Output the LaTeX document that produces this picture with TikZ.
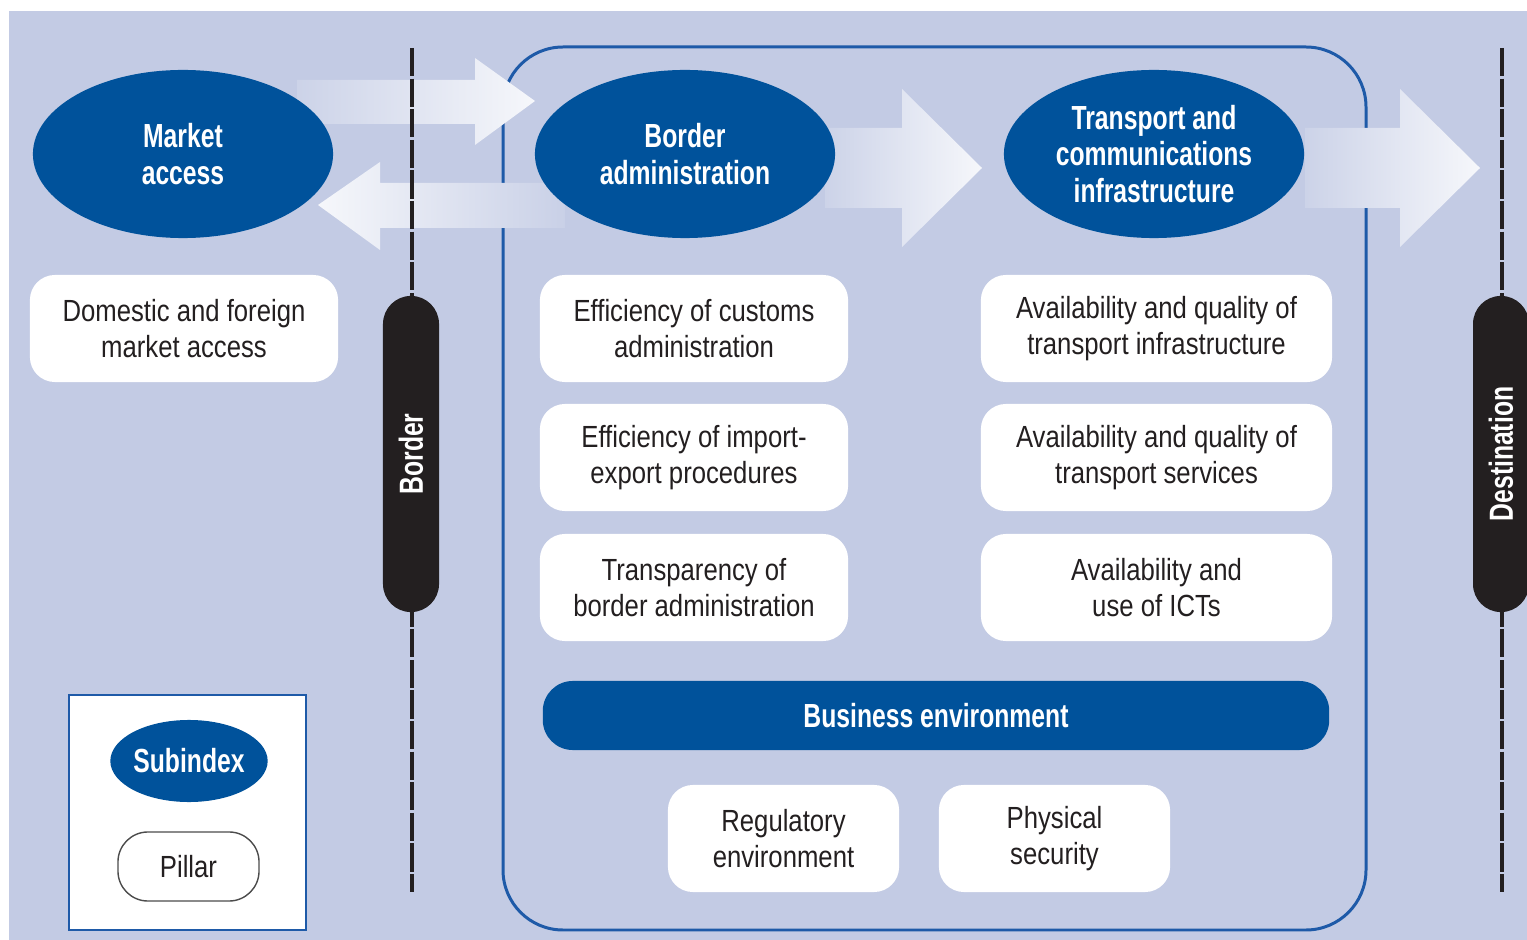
\documentclass[tikz,border=0pt]{standalone}
\usepackage{fontspec}
\setmainfont{Liberation Sans}[FakeStretch=0.84]
\newfontfamily\headfont{Liberation Sans}[FakeStretch=0.74]
\usetikzlibrary{shapes.geometric}

\definecolor{bglav}{RGB}{195,203,228}
\definecolor{subblue}{RGB}{0,82,155}
\definecolor{frameblue}{RGB}{30,90,168}
\definecolor{gateblack}{RGB}{35,31,32}

\tikzset{
  subindex/.style = {ellipse, fill = subblue, text = white, align = center,
    font = \headfont\bfseries\fontsize{9.5}{10.3}\selectfont,
    minimum width = 3cm, minimum height = 1.68cm, inner sep = 0pt},
  pillar/.style = {fill = white, rounded corners = .25cm, align = center,
    text = gateblack, font = \fontsize{8.7}{10.2}\selectfont,
    minimum height = 1.07cm, inner sep = 0pt},
  gate/.style = {fill = gateblack, text = white, rounded corners = .28cm,
    font = \headfont\bfseries\fontsize{9.5}{10.3}\selectfont,
    minimum width = 3.16cm, minimum height = .56cm, inner sep = 0pt, rotate = 90},
  gateline/.style = {gateblack, line width = .9pt, dash pattern = on 8pt off .7pt},
  flow/.style = {left color = white!15!bglav, right color = white!85!bglav},
  backflow/.style = {left color = white!85!bglav, right color = white!10!bglav}
}

\begin{document}
\begin{tikzpicture}[x = .01cm, y = -.01cm]
        % draws the background
        \useasboundingbox (0,0) rectangle (1527,940);
        \fill[bglav] (9,11) rectangle (1527,940);

        % draws the frame round the inner subindices
        \draw[frameblue, line width = .85pt, rounded corners = .6cm]
          (503,47) rectangle (1366,930);

        % draws the flow arrows
        \shade[flow] (297,80) -- (475,80) -- (475,58) -- (535,101)
          -- (475,145) -- (475,124) -- (297,124) -- cycle;
        \shade[backflow] (565,183) -- (380,183) -- (380,162) -- (318,205)
          -- (380,250) -- (380,228) -- (565,228) -- cycle;
        \foreach \a/\b in {825/902, 1305/1400}
          \shade[flow] (\a,128) -- (\b,128) -- (\b,89) -- (\b+80,168)
            -- (\b,247) -- (\b,208) -- (\a,208) -- cycle;

        % draws the border and destination lines
        \foreach \x in {412, 1502}
          \draw[gateline] (\x,48) -- (\x,892);
        \node[gate] (border) at (411,454) {Border};
        \node[gate] (destination) at (1501,454) {Destination};

        % draws the subindices
        \node[subindex] (market) at (183,154) {Market\\access};
        \node[subindex] (borderadm) at (685,154) {Border\\administration};
        \node[subindex] (transport) at (1154,154)
          {Transport and\\communications\\infrastructure};

        % draws the pillars
        \node[pillar, minimum width = 3.08cm] (domestic) at (184,328.5)
          {Domestic and foreign\\market access};
        \node[pillar, minimum width = 3.08cm] (customs) at (694,328.5)
          {Efficiency of customs\\administration};
        \node[pillar, minimum width = 3.08cm] (procedures) at (694,457.5)
          {Efficiency of import-\\export procedures};
        \node[pillar, minimum width = 3.08cm] (transparency) at (694,587.5)
          {Transparency of\\border administration};
        \node[pillar, minimum width = 3.51cm] (infra) at (1156.5,328.5)
          {Availability and quality of\\transport infrastructure};
        \node[pillar, minimum width = 3.51cm] (services) at (1156.5,457.5)
          {Availability and quality of\\transport services};
        \node[pillar, minimum width = 3.51cm] (icts) at (1156.5,587.5)
          {Availability and\\use of ICTs};

        % draws the business environment
        \node[subindex, rectangle, rounded corners = .3cm,
          minimum width = 7.86cm, minimum height = .69cm] (business) at (936,715.5)
          {Business environment};
        \node[pillar, minimum width = 2.31cm] (regulatory) at (783.5,838.5)
          {Regulatory\\environment};
        \node[pillar, minimum width = 2.31cm] (security) at (1054.5,838.5)
          {Physical\\security};

        % draws the legend
        \draw[frameblue, fill = white, line width = .6pt] (69,695) rectangle (306,930);
        \node[subindex, minimum width = 1.38cm, minimum height = .82cm]
          (keysub) at (189,761) {Subindex};
        \node[pillar, draw = black!70, rounded corners = .3cm,
          minimum width = 1.41cm, minimum height = .69cm]
          (keypillar) at (188.5,866.5) {Pillar};
\end{tikzpicture}
\end{document}
